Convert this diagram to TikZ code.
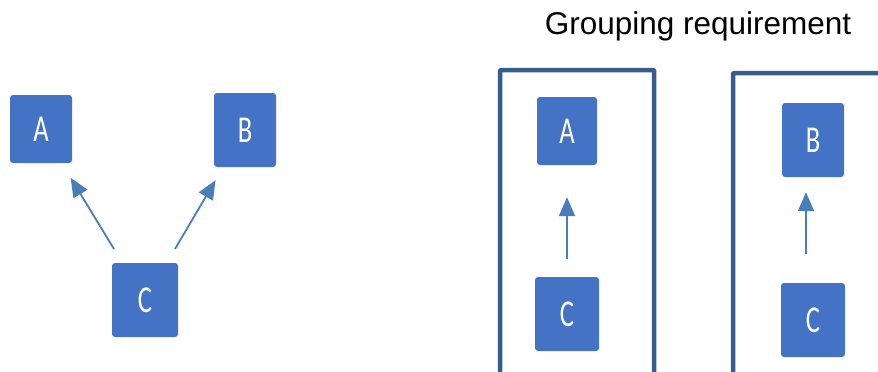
\documentclass[tikz,border=0pt]{standalone}
\usepackage{fontspec}
\setmainfont{Liberation Sans}
\newfontfamily\boxfont{Carlito}
\usetikzlibrary{positioning, arrows.meta}
\definecolor{boxblue}{RGB}{68,114,196}
\definecolor{arrblue}{RGB}{74,126,187}
\definecolor{grpblue}{RGB}{56,93,138}
\newcommand{\boxlbl}[1]{\scalebox{0.7}[1]{#1}}
\tikzstyle{item}=[rectangle, rounded corners=3pt, fill=boxblue, text=white, font=\boxfont\fontsize{38}{40}\selectfont]
\tikzstyle{link}=[arrblue, line width=1.8pt, -{Triangle[length=19pt,width=16pt]}]
\tikzstyle{group}=[rectangle, draw=grpblue, line width=4.5pt, rounded corners=1pt]

\begin{document}
\begin{tikzpicture}[x=1pt, y=-1pt]
            %pixel frame of the whole picture
            \useasboundingbox (0,0) rectangle (878,372);
            \clip (0,0) rectangle (878,372);
            %left: C points to both A and B
            \node[item, minimum width=62, minimum height=68](a) at (41,129){\boxlbl{A}};
            \node[item, minimum width=62, minimum height=74](b) at (245,130){\boxlbl{B}};
            \node[item, minimum width=66, minimum height=74](c) at (145,300){\boxlbl{C}};
            \draw[link, shorten <=16pt, shorten >=17pt] (c) to (a);
            \draw[link, shorten <=16pt, shorten >=15pt] (c) to (b);
            %right: the same split into two groups
            \node[font=\fontsize{31.5}{36}\selectfont](title) at (698,26){Grouping requirement};
            \node[group, minimum width=154, minimum height=320](g1) at (577,230){};
            \node[group, minimum width=160, minimum height=320](g2) at (813,233){};
            \node[item, minimum width=60, minimum height=68](a2) at (567,131){\boxlbl{A}};
            \node[item, minimum width=64, minimum height=74](c2) at (567,314){\boxlbl{C}};
            \draw[link, shorten <=18pt, shorten >=32pt] (c2) to (a2);
            \node[item, minimum width=62, minimum height=74](b3) at (813,140){\boxlbl{B}};
            \node[item, minimum width=64, minimum height=74](c3) at (813,320){\boxlbl{C}};
            \draw[link, shorten <=29pt, shorten >=15pt] ([xshift=-7pt]c3.north) to ([xshift=-7pt]b3.south);
        \end{tikzpicture}
\end{document}
